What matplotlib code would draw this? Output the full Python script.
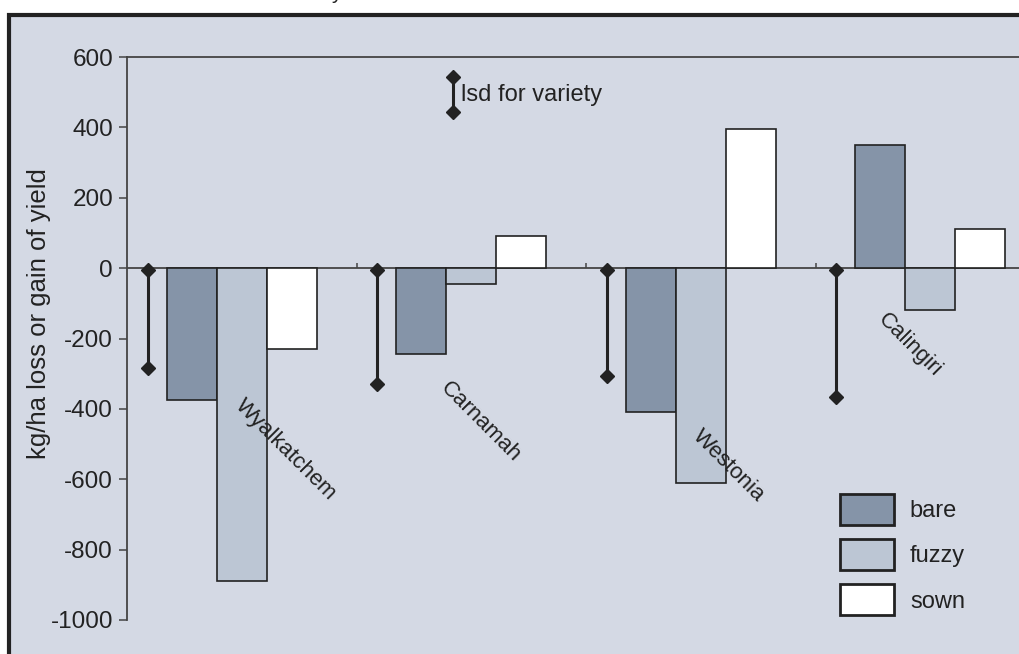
import matplotlib
matplotlib.use("Agg")
from matplotlib import pyplot as plt
from matplotlib.patches import Rectangle, Patch
import numpy as np

# datos
variedades = ["Wyalkatchem", "Carnamah", "Westonia", "Calingiri"]
bare = [-375, -245, -410, 350]
fuzzy = [-890, -45, -610, -120]
sown = [-230, 90, 395, 110]
lsd = [285, 330, 307, 366]
series = ["bare", "fuzzy", "sown"]
colores = ["#8594a8", "#bcc6d4", "#ffffff"]

# centros de las etiquetas rotadas (coordenadas de datos)
etiqueta_x = [0.693, 1.542, 2.619, 3.412]
etiqueta_y = [-517, -438, -563, -219]

fondo = "#d4d9e4"
oscuro = "#222222"

plt.rcParams["font.family"] = ["Liberation Sans", "DejaVu Sans"]
plt.rcParams["axes.unicode_minus"] = False

fig = plt.figure(figsize=(10.19, 6.54), dpi=100, facecolor="white")

# marco del panel
marco = Rectangle((9 / 1019, -0.2), 1.5, 1 - 15 / 654 + 0.2, transform=fig.transFigure,
                  facecolor=fondo, edgecolor=oscuro, linewidth=3, zorder=-10)
fig.patches.append(marco)
fig.text(331 / 1019, 1 + 1 / 654, "y", fontsize=15, color=oscuro, va="baseline")

ax = fig.add_axes([127 / 1019, 1 - 620 / 654, (1045 - 127) / 1019, (620 - 57) / 654])
ax.set_facecolor(fondo)
ax.patch.set_alpha(0)

x = np.arange(len(variedades)) + 0.5
ancho = 0.218
for i, (nombre, valores, color) in enumerate(zip(series, [bare, fuzzy, sown], colores)):
    ax.bar(x + (i - 1) * ancho, valores, width=ancho, color=color, edgecolor=oscuro,
           linewidth=1.2, label=nombre, zorder=3)

# barras lsd
for xi, v in zip(x, lsd):
    ax.plot([xi - 0.41, xi - 0.41], [-5, -v], color=oscuro, linewidth=2.2,
            marker="D", markersize=7.5, zorder=4)

# simbolo lsd para la leyenda
ax.plot([1.42, 1.42], [543, 443], color=oscuro, linewidth=2.2, marker="D",
        markersize=7.5, zorder=4, clip_on=False)
ax.text(1.455, 493, "lsd for variety", fontsize=17, color=oscuro, va="center", ha="left")

for n, ex, ey in zip(variedades, etiqueta_x, etiqueta_y):
    ax.text(ex, ey, n, rotation=-45, rotation_mode="anchor", ha="center", va="center",
            fontsize=16, color=oscuro, zorder=5)

ax.axhline(0, color="#444444", linewidth=1.3, zorder=2)
ax.vlines(np.arange(1, len(variedades)), 0, 14, color="#444444", linewidth=1.1, zorder=2)

ax.set_xlim(0, len(variedades))
ax.set_ylim(-1000, 600)
ax.set_yticks(np.arange(-1000, 601, 200))
ax.set_xticks([])
ax.tick_params(axis="y", direction="out", length=6, width=1.1, colors="#444444",
               labelcolor=oscuro, labelsize=17.5, pad=4)
for lado in ["bottom", "right"]:
    ax.spines[lado].set_visible(False)
for lado in ["left", "top"]:
    ax.spines[lado].set_color("#444444")
    ax.spines[lado].set_linewidth(1.3)

ax.set_ylabel("kg/ha loss or gain of yield", fontsize=18.5, color=oscuro)
ax.yaxis.set_label_coords(-76 / 918, 0.545)

manijas = [Patch(facecolor=c, edgecolor=oscuro, linewidth=2, label=s) for s, c in zip(series, colores)]
ax.legend(handles=manijas, loc="upper left", bbox_to_anchor=(828 / 1019, 1 - 482 / 654),
          bbox_transform=fig.transFigure, frameon=False, fontsize=17, borderpad=0,
          handlelength=2.29, handleheight=1.65, labelspacing=0.6, handletextpad=0.68,
          labelcolor=oscuro)

fig.savefig("out.png", dpi=100, facecolor="white")
